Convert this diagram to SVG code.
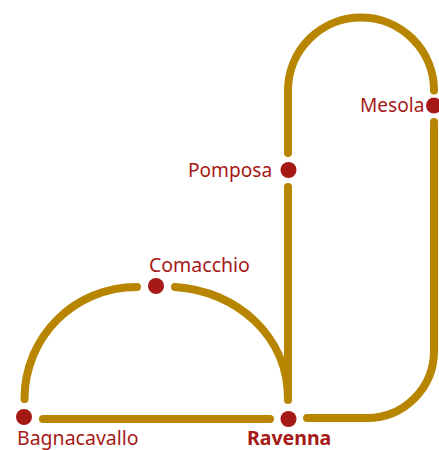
<svg xmlns="http://www.w3.org/2000/svg" width="439" height="450" viewBox="0 0 439 450">
<style>
.c{fill:none;stroke:#b78500;stroke-width:8;stroke-linecap:round}
.d{fill:#a51916}
text{font-family:"Noto Sans","Open Sans",sans-serif;font-size:19.500px;fill:#a51916}
text.s{font-size:19.100px}
</style>
<rect width="439" height="450" fill="#fff"/>
<g id="connectors">
<path class="c" d="M137 287C74 287 24.500 337 24.500 399"/>
<path class="c" d="M175 287C238 291 288 337 288 399"/>
<path class="c" d="M43 419H270"/>
<path class="c" d="M288 400V187"/>
<path class="c" d="M288 153V90.500A73 73 0 0 1 434 90.500"/>
<path class="c" d="M434 122V351A67 67 0 0 1 367 418H307"/>
</g>
<g id="Bagnacavallo"><circle class="d" cx="24" cy="417" r="8"/><text x="17" y="445">Bagnacavallo</text></g>
<g id="Comacchio"><circle class="d" cx="156" cy="286" r="8"/><text x="149" y="272">Comacchio</text></g>
<g id="Ravenna"><circle class="d" cx="288.500" cy="419" r="8"/><text x="247" y="445" font-weight="700">Ravenna</text></g>
<g id="Pomposa"><circle class="d" cx="288.500" cy="170" r="8"/><text class="s" x="188" y="177">Pomposa</text></g>
<g id="Mesola"><circle class="d" cx="434" cy="105.500" r="8"/><text class="s" x="360" y="112">Mesola</text></g>
</svg>
